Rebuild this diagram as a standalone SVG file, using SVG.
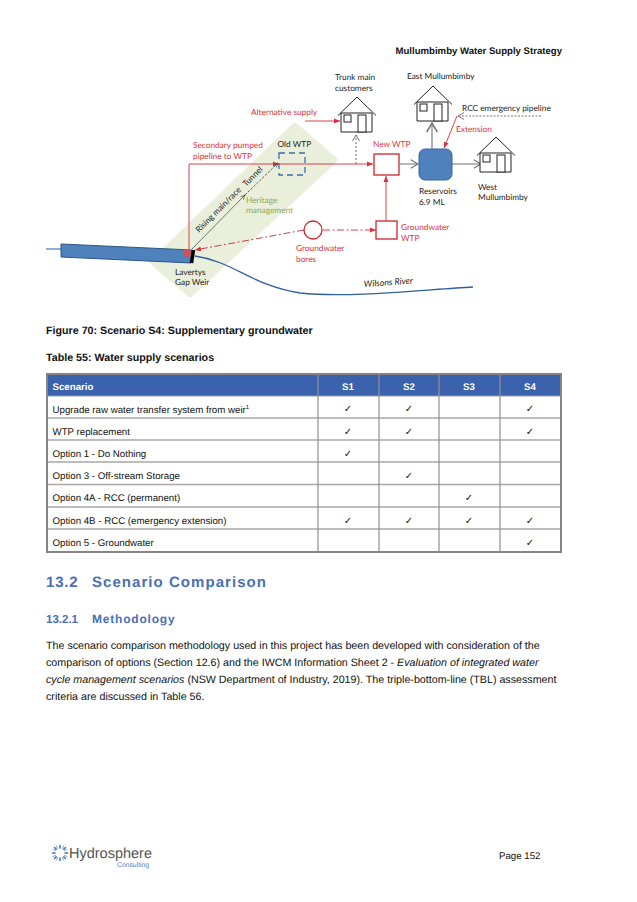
<svg xmlns="http://www.w3.org/2000/svg" width="637" height="902" viewBox="0 0 637 902">
<style>
text{font-family:"Liberation Sans",Arial,sans-serif;fill:#111;text-rendering:geometricPrecision}
.d{font-family:Lato,"Open Sans",sans-serif;font-size:8.300px;fill:#222}
.r{fill:#d8323c}
.g{fill:#8aa85a}
.b{font-weight:bold}
.t{font-size:9.700px}
.th{font-size:9.700px;font-weight:bold;fill:#fff;text-anchor:middle}
.c{font-family:"DejaVu Sans",sans-serif;font-size:10px;text-anchor:middle}
.h{font-weight:bold;fill:#4a6fb8}
.house{fill:#fff;stroke:#222;stroke-width:1}
.red{fill:none;stroke:#d9434b;stroke-width:1}
.grid{stroke:#a8a8a8;stroke-width:1.5}
.vgrid{stroke:#8f8f8f;stroke-width:1.2}
</style>
<defs>
<marker id="ar" markerWidth="7" markerHeight="7" refX="6" refY="3" orient="auto"><path d="M0,0.5L6,3L0,5.5z" fill="#d8323c"/></marker>
<marker id="ag" markerWidth="9" markerHeight="9" refX="7" refY="4" orient="auto"><path d="M1,0.5L7,4L1,7.5" fill="none" stroke="#777" stroke-width="1"/></marker>
<marker id="ak" markerWidth="7" markerHeight="7" refX="6" refY="3" orient="auto"><path d="M0,0.5L6,3L0,5.5" fill="none" stroke="#444" stroke-width="0.8"/></marker>
<g id="h"><path class="house" d="M-16,16H15V35H-16z"/><path class="house" d="M-19,18.5L0,0L19,18.5" style="fill:none"/><rect class="house" x="-13" y="18" width="7" height="7"/><rect class="house" x="1" y="18" width="8" height="17"/></g>
</defs>
<rect width="637" height="902" fill="#fff"/>
<text class="b" x="562" y="53.500" font-size="9.600" text-anchor="end">Mullumbimby Water Supply Strategy</text>
<g id="band"><path d="M295,127L333,160L190,293L154,262z" fill="#e9efdb" stroke="#e9efdb" stroke-width="8" stroke-linejoin="round"/></g>
<g id="river"><path d="M195,256C235,262 250,285 300,293C350,298 420,290 473,287" fill="none" stroke="#2f5f9e" stroke-width="1.300"/><path d="M46,249H61" stroke="#4f81bd" stroke-width="1.300"/><path d="M61,244L192,250L191,263L61,257z" fill="#4f81bd" stroke="#2d5587" stroke-width="1" stroke-linejoin="round"/><path d="M193.500,250L191.500,263" stroke="#000" stroke-width="3.500"/><circle cx="187" cy="253" r="4" fill="#d2505a"/></g>
<g id="connectors">
<path class="red" d="M305,121H340" marker-end="url(#ar)"/>
<path class="red" d="M189,250V164H279" marker-end="url(#ar)"/>
<path class="red" d="M279,164H373" marker-end="url(#ar)"/>
<path d="M356,164V135" fill="none" stroke="#666" stroke-dasharray="2 2" marker-end="url(#ag)"/>
<path d="M192,249L245,195" fill="none" stroke="#555" stroke-width="0.800" marker-end="url(#ak)"/>
<path d="M245,195L278,163" fill="none" stroke="#333" stroke-width="0.800" stroke-dasharray="2.500 1.500" marker-end="url(#ak)"/>
<path d="M400,164H418" stroke="#888" stroke-width="1.200" marker-end="url(#ag)"/>
<path d="M452,164H481" stroke="#888" stroke-width="1.200" marker-end="url(#ag)"/>
<path d="M432,149V123" stroke="#999" stroke-width="1.500" marker-end="url(#ag)"/>
<path d="M457,116L444,148" class="red" marker-end="url(#ar)"/>
<path d="M541,116H458" fill="none" stroke="#777" stroke-dasharray="2 1.500" marker-end="url(#ag)"/>
<path class="red" d="M386,221V176" marker-end="url(#ar)"/>
<path d="M323,230H376" class="red" stroke-dasharray="7 2.500 2 2.500" marker-end="url(#ar)"/>
<path d="M304,230L195,250" class="red" style="stroke:#c8414b" stroke-dasharray="7 2.500 2 2.500" marker-end="url(#ar)"/>
</g>
<g id="trunk-main-customers"><use href="#h" x="357" y="97"/><text class="d" x="335" y="80">Trunk main</text><text class="d" x="335" y="91">customers</text></g>
<g id="east-mullumbimby"><use href="#h" x="433" y="86"/><text class="d" x="407" y="79">East Mullumbimby</text></g>
<g id="west-mullumbimby"><use href="#h" x="496" y="137"/><text class="d" x="478" y="189.500">West</text><text class="d" x="478" y="200">Mullumbimby</text></g>
<g id="old-wtp"><rect x="279" y="153" width="26" height="22" fill="none" stroke="#3f6ea8" stroke-width="1.300" stroke-dasharray="6 4"/><text class="d" x="277.500" y="147">Old WTP</text></g>
<g id="new-wtp"><rect x="374" y="154" width="25" height="21" fill="#fff" stroke="#d2222d" stroke-width="1.300"/><text class="d r" x="373" y="147">New WTP</text></g>
<g id="reservoirs"><rect x="419" y="149" width="33" height="31" rx="6" fill="#4f81bd" stroke="#3a6595"/><text class="d" x="419" y="194">Reservoirs</text><text class="d" x="419" y="205">6.9 ML</text></g>
<g id="groundwater-wtp"><rect x="376" y="221" width="21" height="18" fill="#fff" stroke="#d2222d" stroke-width="1.300"/><text class="d r" x="401" y="230">Groundwater</text><text class="d r" x="401" y="240.500">WTP</text></g>
<g id="groundwater-bores"><circle cx="313" cy="230" r="9" fill="#fff" stroke="#d2222d" stroke-width="1.300"/><text class="d r" x="296" y="251">Groundwater</text><text class="d r" x="296" y="262">bores</text></g>
<g id="labels">
<text class="d r" x="251" y="115">Alternative supply</text>
<text class="d r" x="193" y="148">Secondary pumped</text>
<text class="d r" x="193" y="159">pipeline to WTP</text>
<text class="d" x="462" y="111">RCC emergency pipeline</text>
<text class="d r" x="456" y="132">Extension</text>
<text class="d g" x="246" y="203">Heritage</text>
<text class="d g" x="246" y="213">management</text>
<text class="d" transform="translate(199,233) rotate(-45)">Rising main/race</text>
<text class="d" transform="translate(246,187) rotate(-45)">Tunnel</text>
<text class="d" x="175" y="274.500">Lavertys</text>
<text class="d" x="175" y="285">Gap Weir</text>
<text class="d" transform="translate(364,287) rotate(-4)" style="font-style:italic;font-size:8.800px">Wilsons River</text>
</g>
<text class="b" x="46" y="334" font-size="10.700">Figure 70: Scenario S4: Supplementary groundwater</text>
<text class="b" x="46" y="360.500" font-size="10.700">Table 55: Water supply scenarios</text>
<g id="table">
<rect x="47" y="374" width="514" height="22" fill="#3a62ad"/>
<path class="grid" d="M47,418H561M47,440H561M47,462H561M47,484.500H561M47,507H561M47,529H561"/>
<path class="vgrid" d="M318,374V552M379,374V552M439,374V552M500,374V552"/>
<rect x="47" y="374" width="514" height="178" fill="none" stroke="#858585" stroke-width="2"/>
<path d="M47,396H561" stroke="#9a9a9a" stroke-width="1"/>
<text class="th" style="text-anchor:start" x="52.500" y="390">Scenario</text>
<text class="th" x="348" y="390">S1</text><text class="th" x="409" y="390">S2</text><text class="th" x="469" y="390">S3</text><text class="th" x="530" y="390">S4</text>
<text class="t" x="52.500" y="412.500">Upgrade raw water transfer system from weir<tspan font-size="6" dy="-3.500">1</tspan></text>
<text class="t" x="52.500" y="435">WTP replacement</text>
<text class="t" x="52.500" y="457">Option 1 - Do Nothing</text>
<text class="t" x="52.500" y="479">Option 3 - Off-stream Storage</text>
<text class="t" x="52.500" y="501">Option 4A - RCC (permanent)</text>
<text class="t" x="52.500" y="524">Option 4B - RCC (emergency extension)</text>
<text class="t" x="52.500" y="546">Option 5 - Groundwater</text>
<text class="c" x="348" y="412">✓</text><text class="c" x="409" y="412">✓</text><text class="c" x="530" y="412">✓</text>
<text class="c" x="348" y="435">✓</text><text class="c" x="409" y="435">✓</text><text class="c" x="530" y="435">✓</text>
<text class="c" x="348" y="457">✓</text>
<text class="c" x="409" y="479">✓</text>
<text class="c" x="469" y="501">✓</text>
<text class="c" x="348" y="524">✓</text><text class="c" x="409" y="524">✓</text><text class="c" x="469" y="524">✓</text><text class="c" x="530" y="524">✓</text>
<text class="c" x="530" y="546">✓</text>
</g>
<text class="h" x="46" y="587" font-size="15" letter-spacing="0.800">13.2</text>
<text class="h" x="92" y="587" font-size="15" letter-spacing="1.050">Scenario Comparison</text>
<text class="h" x="46" y="623" font-size="11.500">13.2.1</text>
<text class="h" x="92" y="623" font-size="12" letter-spacing="0.800">Methodology</text>
<g font-size="10.700">
<text x="46" y="648.500">The scenario comparison methodology used in this project has been developed with consideration of the</text>
<text x="46" y="665.500">comparison of options (Section 12.6) and the IWCM Information Sheet 2 - <tspan font-style="italic">Evaluation of integrated water</tspan></text>
<text x="46" y="682.500"><tspan font-style="italic">cycle management scenarios</tspan> (NSW Department of Industry, 2019). The triple-bottom-line (TBL) assessment</text>
<text x="46" y="699.500">criteria are discussed in Table 56.</text>
</g>
<g id="logo">
<g transform="translate(-2,0)" stroke="#3d72b8" stroke-width="1.500" stroke-linecap="round">
<path d="M62,845.500V848M67.500,847.500L65.800,849.200M69.500,853H67M67.500,858.500L65.800,856.800M62,860.500V858M56.500,858.500L58.200,856.800M54.500,853H57M56.500,847.500L58.200,849.200"/>
<path d="M58.500,846L59.500,848.500M65.500,846L64.500,848.500M69,849.500L66.500,850.500M69,856.500L66.500,855.500M65.500,860L64.500,857.500M58.500,860L59.500,857.500M55,856.500L57.500,855.500M55,849.500L57.500,850.500" stroke-width="1" stroke="#7fa3d3"/>
</g>
<text x="69" y="857.500" font-size="14.500" style="fill:#555">Hydrosphere</text>
<text x="117" y="866.500" font-size="6.800" style="fill:#4a84c4">Consulting</text>
</g>
<text x="499" y="859" font-size="9.700">Page 152</text>
</svg>
